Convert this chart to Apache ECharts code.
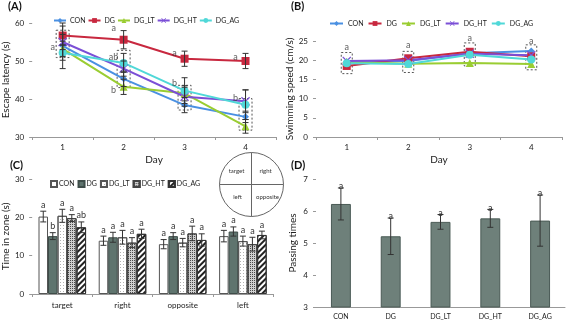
<!DOCTYPE html>
<html>
<head>
<meta charset="utf-8">
<script src="https://cdn.jsdelivr.net/npm/echarts@6/dist/echarts.min.js"></script>
<style>
  html, body { margin: 0; padding: 0; background: #fff; }
  #main { width: 567px; height: 320px; }
</style>
</head>
<body>
<div id="main"></div>
<script>
// ---- data ----
const days = ['1', '2', '3', '4'];
const groups = ['CON', 'DG', 'DG_LT', 'DG_HT', 'DG_AG'];
const zones = ['target', 'right', 'opposite', 'left'];

// (A) escape latency, s
const latencyCON = [54.0, 45.3, 38.4, 35.3];
const latencyDG = [56.7, 55.6, 50.6, 50.0];
const latencyLT = [53.2, 43.2, 41.5, 32.8];
const latencyHT = [55.0, 48.0, 40.6, 39.4];
const latencyAG = [52.2, 49.5, 42.2, 38.5];
const latencyErrCON = [6.0, 2.0, 2.0, 1.5];
const latencyErrDG = [2.5, 2.4, 2.0, 2.0];
const latencyErrLT = [2.0, 2.0, 2.0, 1.8];
const latencyErrHT = [2.0, 2.0, 2.5, 3.0];
const latencyErrAG = [2.0, 2.5, 3.4, 3.9];
const latencyBoxes = [[0, 50.9, 58.1], [1, 43.0, 52.8], [2, 37.1, 43.6], [3, 31.8, 40.1]];
const latencyLetters = [[0, 53.6, 'a'], [1, 58.7, 'a'], [1, 51.0, 'ab'], [1, 42.3, 'b'],
                        [2, 52.0, 'a'], [2, 44.2, 'b'], [3, 51.0, 'a'], [3, 40.2, 'b']];

// (B) swimming speed, cm/s
const speedCON = [19.6, 19.8, 21.8, 22.4];
const speedDG = [18.5, 20.5, 22.2, 21.0];
const speedLT = [19.5, 19.1, 19.3, 19.0];
const speedHT = [19.8, 20.0, 21.7, 21.3];
const speedAG = [19.2, 19.0, 21.4, 20.2];
const speedBoxes = [[0, 16.5, 22.0], [1, 16.8, 22.3], [2, 18.5, 24.5], [3, 17.5, 24.0]];
const speedLetters = [[0, 23.5, 'a'], [1, 24.0, 'a'], [2, 25.8, 'a'], [3, 25.0, 'a']];

// (C) time in zone, s
const zoneCON = [20.2, 13.9, 13.0, 15.1];
const zoneDG = [15.1, 14.8, 15.1, 16.3];
const zoneLT = [20.4, 14.8, 13.4, 13.8];
const zoneHT = [19.8, 13.4, 15.8, 13.0];
const zoneAG = [17.4, 15.7, 14.1, 15.4];
const zoneErrCON = [1.4, 1.2, 1.2, 1.5];
const zoneErrDG = [0.9, 1.3, 0.9, 1.2];
const zoneErrLT = [1.7, 1.8, 1.1, 1.3];
const zoneErrHT = [0.9, 1.3, 1.9, 1.8];
const zoneErrAG = [1.4, 1.2, 1.6, 1.0];
const zoneLetters = [['a', 'a', 'a', 'a'], ['b', 'a', 'a', 'a'], ['a', 'a', 'a', 'a'],
                     ['a', 'a', 'a', 'a'], ['ab', 'a', 'a', 'a']];

// (D) passing times
const passing = [6.22, 5.21, 5.66, 5.77, 5.70];
const passingErr = [0.50, 0.57, 0.23, 0.28, 0.80];
const passingLetters = ['a', 'a', 'a', 'a', 'a'];

// ---- styles ----
const FONT = 'Lato';
const lineColors = ['#4a90e2', '#c8283f', '#9acd32', '#7b4fd6', '#50d8d8'];
const lineSymbols = ['diamond', 'rect', 'triangle',
  'path://M0,1 L1,0 L5,4 L9,0 L10,1 L6,5 L10,9 L9,10 L5,6 L1,10 L0,9 L4,5 Z', 'circle'];
const lineSymbolSizes = [7, 8, 8, 9, 8];
const BAR_GAP = 0.21;

const chart = echarts.init(document.getElementById('main'));

function axisCommon(extra) {
    return Object.assign({
        axisLine: { lineStyle: { color: '#999' } },
        axisTick: { show: true, length: 3, lineStyle: { color: '#999' } },
        axisLabel: { fontSize: 8, color: '#222', fontFamily: FONT },
        splitLine: { show: false },
        nameTextStyle: { fontSize: 10, color: '#222', fontFamily: FONT }
    }, extra);
}

function errorBars(name, xi, yi, means, errs, slot, letters, letterGap) {
    return {
        name: name,
        type: 'custom',
        xAxisIndex: xi,
        yAxisIndex: yi,
        z: 5,
        silent: true,
        data: means.map((m, i) => [i, m, errs[i]]),
        renderItem: function (params, api) {
            const x = api.value(0), m = api.value(1), e = api.value(2);
            const hi = api.coord([x, m + e]);
            const lo = api.coord([x, m - e]);
            let dx = 0;
            if (slot != null) {
                const band = api.size([1, 0])[0];
                dx = (slot - 2) * band * (1 - BAR_GAP) / 5;
            }
            const cx = hi[0] + dx;
            const st = { stroke: '#333', lineWidth: 1 };
            const kids = [
                { type: 'line', shape: { x1: cx, y1: hi[1], x2: cx, y2: lo[1] }, style: st },
                { type: 'line', shape: { x1: cx - 3, y1: hi[1], x2: cx + 3, y2: hi[1] }, style: st },
                { type: 'line', shape: { x1: cx - 3, y1: lo[1], x2: cx + 3, y2: lo[1] }, style: st }
            ];
            if (letters) {
                kids.push({
                    type: 'text',
                    style: {
                        text: letters[params.dataIndex], x: cx, y: hi[1] - letterGap,
                        align: 'center', verticalAlign: 'bottom',
                        fontSize: 9, fill: '#333', fontFamily: FONT
                    }
                });
            }
            return { type: 'group', children: kids };
        }
    };
}

function dashBoxes(name, xi, yi, boxes, halfW) {
    return {
        name: name,
        type: 'custom',
        xAxisIndex: xi,
        yAxisIndex: yi,
        z: 1,
        silent: true,
        data: boxes,
        renderItem: function (params, api) {
            const top = api.coord([api.value(0), api.value(2)]);
            const bot = api.coord([api.value(0), api.value(1)]);
            return {
                type: 'rect',
                shape: { x: top[0] - halfW, y: top[1], width: halfW * 2, height: bot[1] - top[1] },
                style: { fill: 'none', stroke: '#555', lineWidth: 1, lineDash: [2, 2] }
            };
        }
    };
}

function letterSeries(name, xi, yi, pts, dx) {
    return {
        name: name,
        type: 'scatter',
        xAxisIndex: xi,
        yAxisIndex: yi,
        symbolSize: 0,
        clip: false,
        silent: true,
        z: 6,
        data: pts.map(p => ({ value: [p[0], p[1]], label: { formatter: p[2] } })),
        label: {
            show: true, position: 'inside', offset: [dx, 0],
            fontSize: 9, color: '#333', fontFamily: FONT
        }
    };
}

function lineSeries(name, idx, xi, yi, values) {
    return {
        name: name,
        type: 'line',
        xAxisIndex: xi,
        yAxisIndex: yi,
        data: values,
        symbol: lineSymbols[idx],
        symbolSize: lineSymbolSizes[idx],
        itemStyle: { color: lineColors[idx] },
        lineStyle: { width: 2, color: lineColors[idx] },
        z: 3
    };
}

const latencyAll = [latencyCON, latencyDG, latencyLT, latencyHT, latencyAG];
const latencyErrAll = [latencyErrCON, latencyErrDG, latencyErrLT, latencyErrHT, latencyErrAG];
const speedAll = [speedCON, speedDG, speedLT, speedHT, speedAG];
const zoneAll = [zoneCON, zoneDG, zoneLT, zoneHT, zoneAG];
const zoneErrAll = [zoneErrCON, zoneErrDG, zoneErrLT, zoneErrHT, zoneErrAG];

const barStyles = [
    { color: '#ffffff', borderColor: '#555', borderWidth: 1 },
    { color: '#5f746e', borderColor: '#3e4d49', borderWidth: 1 },
    { color: '#ffffff', borderColor: '#555', borderWidth: 1,
      decal: { symbol: 'rect', symbolSize: 1, color: 'rgba(0,0,0,0.3)', dashArrayX: [1, 2], dashArrayY: [1, 2] } },
    { color: '#d0d0d0', borderColor: '#444', borderWidth: 1,
      decal: { symbol: 'rect', symbolSize: 1, color: 'rgba(40,40,40,0.8)', dashArrayX: [1, 1], dashArrayY: [1, 1] } },
    { color: '#ffffff', borderColor: '#333', borderWidth: 1,
      decal: { symbol: 'rect', symbolSize: 1, color: '#222', dashArrayX: [1, 0], dashArrayY: [2, 2], rotation: -Math.PI / 4 } }
];

const series = [];
groups.forEach((g, i) => {
    series.push(lineSeries(g, i, 0, 0, latencyAll[i]));
    series.push(errorBars('errA' + i, 0, 0, latencyAll[i], latencyErrAll[i], null, null, 0));
});
series.push(dashBoxes('boxA', 0, 0, latencyBoxes, 6.5));
series.push(letterSeries('letA', 0, 0, latencyLetters, -10));

groups.forEach((g, i) => {
    series.push(lineSeries(g, i, 1, 1, speedAll[i]));
});
series.push(dashBoxes('boxB', 1, 1, speedBoxes, 5.5));
series.push(letterSeries('letB', 1, 1, speedLetters, 0));

groups.forEach((g, i) => {
    series.push({
        name: 'C:' + g,
        type: 'bar',
        xAxisIndex: 2,
        yAxisIndex: 2,
        data: zoneAll[i],
        barGap: 0,
        barCategoryGap: (BAR_GAP * 100) + '%',
        itemStyle: barStyles[i]
    });
});
groups.forEach((g, i) => {
    series.push(errorBars('errC' + i, 2, 2, zoneAll[i], zoneErrAll[i], i, zoneLetters[i], 2));
});

series.push({
    name: 'passing',
    type: 'bar',
    xAxisIndex: 3,
    yAxisIndex: 3,
    data: passing,
    barWidth: '40%',
    itemStyle: { color: '#6e807a', borderColor: '#4a5a55', borderWidth: 1 }
});
series.push(errorBars('errD', 3, 3, passing, passingErr, null, passingLetters, -3));

const option = {
    animation: false,
    backgroundColor: '#fff',
    textStyle: { fontFamily: FONT },
    grid: [
        { left: 31, top: 23, width: 245, height: 114 },
        { left: 316, top: 41, width: 246, height: 96 },
        { left: 28, top: 179, width: 245, height: 115 },
        { left: 316, top: 179, width: 249, height: 128 }
    ],
    legend: [
        { data: groups, left: 53, top: 17, padding: 0, itemWidth: 12, itemHeight: 6, itemGap: 2,
          textStyle: { fontSize: 7, color: '#222', fontFamily: FONT, padding: [0, 0, 0, -1] } },
        { data: groups, left: 329, top: 20, padding: 0, itemWidth: 13, itemHeight: 6, itemGap: 4,
          textStyle: { fontSize: 7, color: '#222', fontFamily: FONT } },
        { data: groups.map(g => 'C:' + g), left: 50, top: 180, padding: 0, icon: 'rect', itemWidth: 6, itemHeight: 6,
          itemGap: 3, textStyle: { fontSize: 7, color: '#222', fontFamily: FONT, padding: [0, 0, 0, -3] },
          formatter: n => n.replace('C:', '') }
    ],
    xAxis: [
        axisCommon({ type: 'category', gridIndex: 0, data: days, name: 'Day', nameLocation: 'middle', nameGap: 18,
                     axisLabel: { fontSize: 8, color: '#222', fontFamily: FONT, margin: 6 } }),
        axisCommon({ type: 'category', gridIndex: 1, data: days, name: 'Day', nameLocation: 'middle', nameGap: 18,
                     axisLabel: { fontSize: 8, color: '#222', fontFamily: FONT, margin: 6 } }),
        axisCommon({ type: 'category', gridIndex: 2, data: zones,
                     axisLabel: { fontSize: 8, color: '#222', fontFamily: FONT, margin: 7 } }),
        axisCommon({ type: 'category', gridIndex: 3, data: groups, axisTick: { show: false },
                     axisLabel: { fontSize: 7, color: '#222', fontFamily: FONT, margin: 6 } })
    ],
    yAxis: [
        axisCommon({ type: 'value', gridIndex: 0, min: 30, max: 60, interval: 10,
                     name: 'Escape latency (s)', nameLocation: 'middle', nameGap: 19 }),
        axisCommon({ type: 'value', gridIndex: 1, min: 0, max: 25, interval: 5,
                     name: 'Swimming speed (cm/s)', nameLocation: 'middle', nameGap: 19 }),
        axisCommon({ type: 'value', gridIndex: 2, min: 0, max: 30, interval: 10,
                     name: 'Time in zone (s)', nameLocation: 'middle', nameGap: 17 }),
        axisCommon({ type: 'value', gridIndex: 3, min: 3, max: 7, interval: 1,
                     name: 'Passing times', nameLocation: 'middle', nameGap: 18 })
    ],
    graphic: [
        { type: 'text', left: 8, top: 1, style: { text: '(A)', fontSize: 11, fontWeight: 'bold', fill: '#111', fontFamily: FONT } },
        { type: 'text', left: 291, top: 1, style: { text: '(B)', fontSize: 11, fontWeight: 'bold', fill: '#111', fontFamily: FONT } },
        { type: 'text', left: 10, top: 160, style: { text: '(C)', fontSize: 11, fontWeight: 'bold', fill: '#111', fontFamily: FONT } },
        { type: 'text', left: 291, top: 160, style: { text: '(D)', fontSize: 11, fontWeight: 'bold', fill: '#111', fontFamily: FONT } },
        {
            type: 'group', left: 217, top: 150,
            children: [
                { type: 'circle', shape: { cx: 32, cy: 32, r: 32 }, style: { fill: 'none', stroke: '#666', lineWidth: 1 } },
                { type: 'line', shape: { x1: 0, y1: 32, x2: 64, y2: 32 }, style: { stroke: '#666', lineWidth: 1 } },
                { type: 'line', shape: { x1: 32, y1: 0, x2: 32, y2: 64 }, style: { stroke: '#666', lineWidth: 1 } },
                { type: 'text', style: { text: 'target', x: 17, y: 19, align: 'center', verticalAlign: 'middle', fontSize: 6, fill: '#333', fontFamily: FONT } },
                { type: 'text', style: { text: 'right', x: 46, y: 19, align: 'center', verticalAlign: 'middle', fontSize: 6, fill: '#333', fontFamily: FONT } },
                { type: 'text', style: { text: 'left', x: 18, y: 45, align: 'center', verticalAlign: 'middle', fontSize: 6, fill: '#333', fontFamily: FONT } },
                { type: 'text', style: { text: 'opposite', x: 48, y: 45, align: 'center', verticalAlign: 'middle', fontSize: 6, fill: '#333', fontFamily: FONT } }
            ]
        }
    ],
    series: series
};

chart.setOption(option);
</script>
</body>
</html>
